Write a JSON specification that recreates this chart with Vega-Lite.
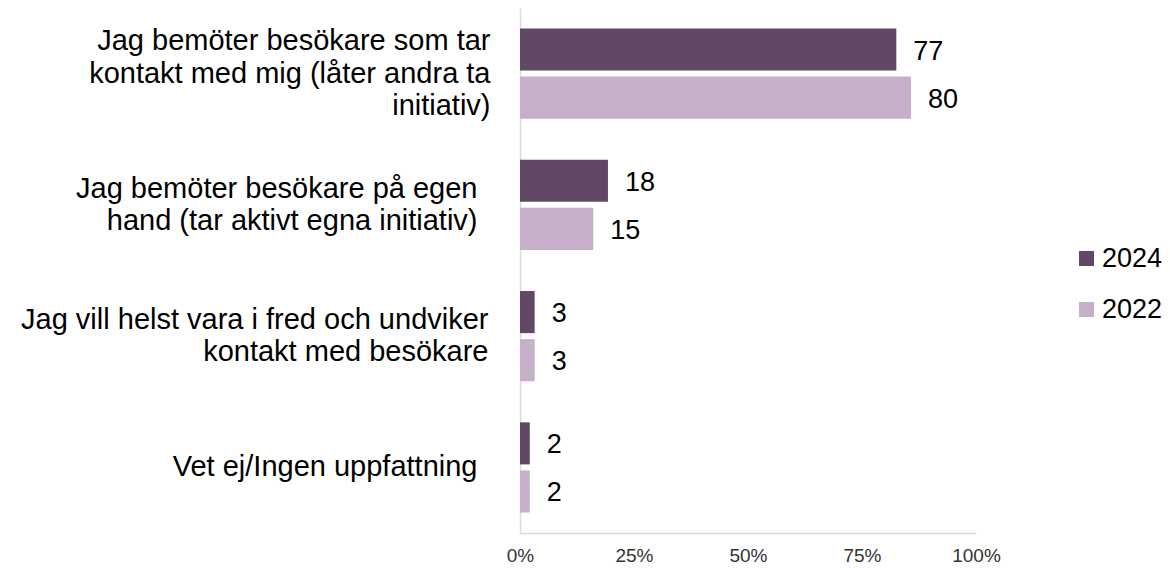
{
  "$schema": "https://vega.github.io/schema/vega-lite/v6.json",
  "width": 456,
  "height": 525,
  "autosize": {"type": "none"},
  "padding": {"left": 520, "top": 8, "right": 194, "bottom": 36},
  "background": "white",
  "config": {"view": {"stroke": null}, "font": "Liberation Sans"},
  "data": {
    "values": [
      {"category": "Jag bemöter besökare som tar|kontakt med mig (låter andra ta|initiativ)", "year": "2024", "value": 77},
      {"category": "Jag bemöter besökare som tar|kontakt med mig (låter andra ta|initiativ)", "year": "2022", "value": 80},
      {"category": "Jag bemöter besökare på egen|hand (tar aktivt egna initiativ)", "year": "2024", "value": 18},
      {"category": "Jag bemöter besökare på egen|hand (tar aktivt egna initiativ)", "year": "2022", "value": 15},
      {"category": "Jag vill helst vara i fred och undviker|kontakt med besökare", "year": "2024", "value": 3},
      {"category": "Jag vill helst vara i fred och undviker|kontakt med besökare", "year": "2022", "value": 3},
      {"category": "Vet ej/Ingen uppfattning", "year": "2024", "value": 2},
      {"category": "Vet ej/Ingen uppfattning", "year": "2022", "value": 2}
    ]
  },
  "encoding": {
    "y": {
      "field": "category",
      "type": "nominal",
      "sort": null,
      "scale": {"paddingInner": 0.313, "paddingOuter": 0.156},
      "axis": {
        "title": null,
        "ticks": false,
        "domainColor": "#d9d9d9",
        "domainWidth": 1.5,
        "labelFontSize": 29,
        "labelColor": "#000000",
        "labelPadding": {"expr": "(indexof(datum.label, 'egen') >= 0 || indexof(datum.label, 'Vet ej') >= 0) ? 43 : (indexof(datum.label, 'fred') >= 0 ? 32 : 30)"},
        "labelLimit": 600,
        "labelLineHeight": 32.5,
        "labelOffset": {"expr": "-(length(split(datum.label, '|')) - 1) * 16.25"},
        "labelExpr": "split(datum.label, '|')"
      }
    },
    "yOffset": {
      "field": "year",
      "type": "nominal",
      "sort": ["2024", "2022"],
      "scale": {"paddingInner": 0.125, "paddingOuter": 0}
    },
    "x": {
      "field": "value",
      "type": "quantitative",
      "scale": {"domain": [0, 93.3], "nice": false},
      "axis": {
        "title": null,
        "values": [0, 23.325, 46.65, 69.975, 93.3],
        "labelExpr": "format(datum.value / 93.3, '.0%')",
        "grid": false,
        "ticks": false,
        "domainColor": "#d9d9d9",
        "domainWidth": 1.5,
        "labelFontSize": 19,
        "labelColor": "#333333",
        "labelPadding": 13,
        "labelFlush": false,
        "labelOverlap": false
      }
    }
  },
  "layer": [
    {
      "mark": {"type": "bar"},
      "encoding": {
        "color": {
          "field": "year",
          "type": "nominal",
          "scale": {"domain": ["2024", "2022"], "range": ["#614865", "#c6afc8"]},
          "legend": {
            "orient": "none",
            "legendX": 553,
            "legendY": 237,
            "title": null,
            "symbolType": "square",
            "symbolSize": 225,
            "symbolStrokeWidth": 0,
            "labelFontSize": 27,
            "labelColor": "#000000",
            "labelOffset": 2,
            "rowPadding": 23,
            "padding": 0
          }
        }
      }
    },
    {
      "mark": {"type": "text", "align": "left", "baseline": "middle", "dx": 17, "dy": 2, "fontSize": 27, "color": "#000000"},
      "encoding": {"text": {"field": "value", "type": "quantitative"}}
    }
  ]
}
